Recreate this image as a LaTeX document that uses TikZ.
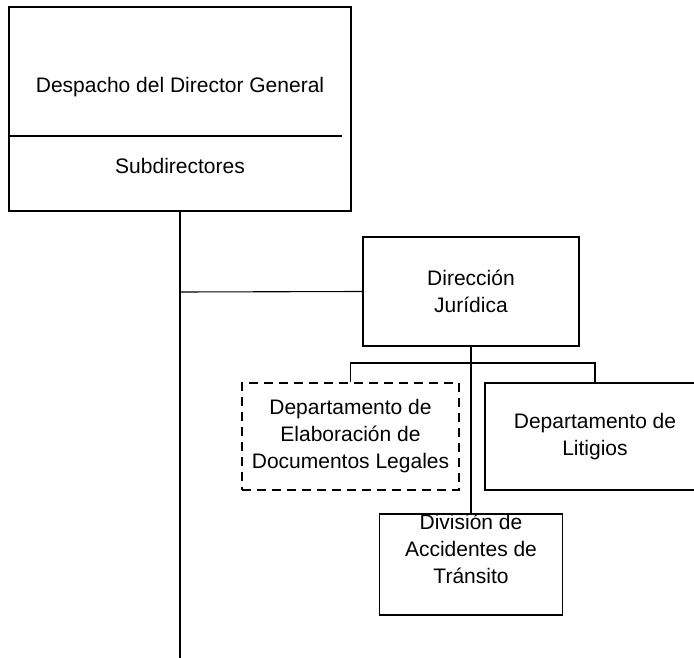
\documentclass[tikz,border=0pt]{standalone}
\usepackage{fontspec}
\setmainfont{Liberation Sans}
\usepackage{tikz}
\newcommand{\orgFont}{\fontsize{21}{27}\selectfont}

\begin{document}
\begin{tikzpicture}[%%
  x=1pt,y=-1pt,%%
  boxStyle/.style={draw,rectangle,line width=1.1pt,inner sep=0pt,align=center,font=\orgFont},%%
  dashBoxStyle/.style={boxStyle,dash pattern=on 9pt off 6pt},%%
  lineStyle/.style={-,line width=1.1pt},%%
  labelStyle/.style={align=center,inner sep=0pt,font=\orgFont}
]
%%
%%
\useasboundingbox (0,0) rectangle (694,658);
\coordinate (dividerStart) at (9,136);
\coordinate (dividerEnd) at (342,136);
\coordinate (trunkJoint) at (180,292);
\coordinate (trunkEnd) at (180,658);
\coordinate (branchMid) at (471,363);
%%
%%
%% The head office with its subdirectors.
\node[boxStyle,minimum width=342pt,minimum height=204pt] (despacho) at (180,109) {};
\node[labelStyle] (despachoLabel) at (180,87.5) {Despacho del Director General};
\node[labelStyle] (subdirLabel) at (180,165.5) {Subdirectores};
\draw[lineStyle] (dividerStart) -- (dividerEnd);
%% The legal direction and its units.
\node[boxStyle,minimum width=216pt,minimum height=109pt] (direccion) at (471,291.5)
  {Dirección\\Jurídica};
\node[dashBoxStyle,minimum width=217pt,minimum height=107pt] (elaboracion) at (350.5,436.5)
  {Departamento de\\Elaboración de\\Documentos Legales};
\node[boxStyle,minimum width=220pt,minimum height=107pt] (litigios) at (595,436.5)
  {Departamento de\\Litigios};
\node[boxStyle,minimum width=183pt,minimum height=101pt] (division) at (471,564.5) {};
\node[labelStyle] (divisionLabel) at (471,549)
  {División de\\Accidentes de\\Tránsito};
%% Connectors.
\draw[lineStyle] (despacho.south) -- (trunkEnd);
\draw[lineStyle] (trunkJoint) -- (direccion.west);
\draw[lineStyle] (direccion.south) -- (division.north);
\draw[lineStyle] (elaboracion.north) |- (branchMid) -| (litigios.north);
\end{tikzpicture}
\end{document}
